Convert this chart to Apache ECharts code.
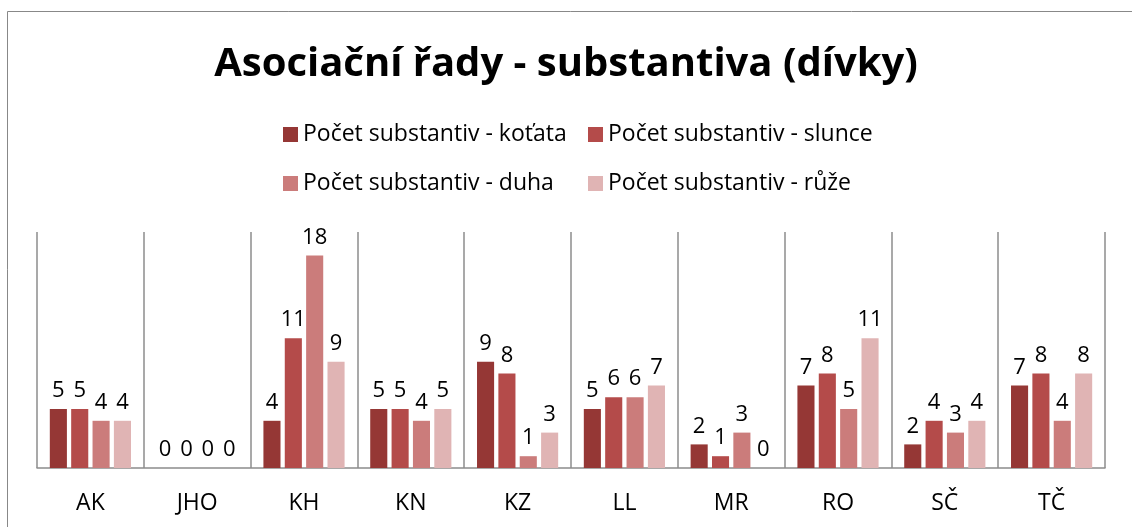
<!DOCTYPE html>
<html>
<head>
<meta charset="utf-8">
<script src="https://cdn.jsdelivr.net/npm/echarts@6/dist/echarts.min.js"></script>
<style>
  html, body { margin: 0; padding: 0; background: #fff; }
  #chart { width: 1132px; height: 527px; }
</style>
</head>
<body>
<div id="chart"></div>
<script>
// Categories and per-series counts of nouns
const categories = ['AK', 'JHO', 'KH', 'KN', 'KZ', 'LL', 'MR', 'RO', 'SČ', 'TČ'];
const seriesNames = [
  'Počet substantiv - koťata',
  'Počet substantiv - slunce',
  'Počet substantiv - duha',
  'Počet substantiv - růže'
];
const kotata = [5, 0, 4, 5, 9, 5, 2, 7, 2, 7];
const slunce = [5, 0, 11, 5, 8, 6, 1, 8, 4, 8];
const duha   = [4, 0, 18, 4, 1, 6, 3, 5, 3, 4];
const ruze   = [4, 0, 9, 5, 3, 7, 0, 11, 4, 8];

const values = [kotata, slunce, duha, ruze];
const colors = ['#953735', '#B44B4A', '#CB7C7B', '#E0B4B4'];
const FONT = '"Open Sans", "Noto Sans", sans-serif';

const legendText = { fontFamily: FONT, fontSize: 23, color: '#000' };

const chart = echarts.init(document.getElementById('chart'));

chart.setOption({
  animation: false,
  backgroundColor: '#ffffff',
  graphic: [{
    type: 'rect',
    shape: { x: 7.5, y: 11.5, width: 1140, height: 530 },
    style: { fill: 'none', stroke: '#888888', lineWidth: 1 },
    silent: true
  }],
  title: {
    text: 'Asociační řady - substantiva (dívky)',
    left: 'center',
    top: 40,
    textStyle: { fontFamily: FONT, fontWeight: 'bold', fontSize: 40, color: '#000' }
  },
  legend: [
    { data: [seriesNames[0]], left: 283, top: 123 },
    { data: [seriesNames[1]], left: 588, top: 123 },
    { data: [seriesNames[2]], left: 283, top: 172 },
    { data: [seriesNames[3]], left: 588, top: 172 }
  ].map(l => Object.assign(l, {
    padding: 0,
    itemWidth: 15, itemHeight: 15, itemGap: 0,
    icon: 'rect',
    textStyle: legendText
  })),
  grid: { left: 37, right: 27, top: 232, bottom: 59, containLabel: false },
  xAxis: {
    type: 'category',
    data: categories,
    axisLine: { lineStyle: { color: '#8c8c8c', width: 1.5 } },
    axisTick: { show: false },
    axisLabel: { fontFamily: FONT, fontSize: 23, color: '#000', margin: 24, interval: 0 },
    splitLine: { show: true, interval: 0, lineStyle: { color: '#8c8c8c', width: 1.5 } }
  },
  yAxis: {
    type: 'value',
    min: 0, max: 20, interval: 5,
    show: false,
    splitLine: { show: false }
  },
  series: values.map((v, i) => ({
    name: seriesNames[i],
    type: 'bar',
    data: v,
    barGap: '25%',
    barCategoryGap: '24%',
    itemStyle: { color: colors[i] },
    label: {
      show: true,
      position: 'top',
      distance: 7,
      fontFamily: FONT,
      fontSize: 22,
      color: '#000'
    }
  }))
});
</script>
</body>
</html>
